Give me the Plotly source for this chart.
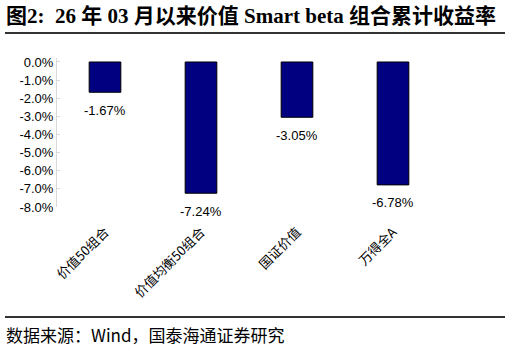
import plotly.graph_objects as go

categories = ["价值50组合", "价值均衡50组合", "国证价值", "万得全A"]
values = [-1.67, -7.24, -3.05, -6.78]
tick_vals = [0, -1, -2, -3, -4, -5, -6, -7, -8]
tick_text = ["0.0%", "-1.0%", "-2.0%", "-3.0%", "-4.0%", "-5.0%", "-6.0%", "-7.0%", "-8.0%"]
labels = [f"{v:.2f}%" for v in values]
title_text = "<b>图2:  26 年 03 月以来价值 Smart beta 组合累计收益率</b>"
source_text = "数据来源：Wind，国泰海通证券研究"

fig = go.Figure()
fig.add_trace(go.Bar(
    x=categories, y=values, width=0.33,
    marker=dict(color="#000080", line=dict(color="#000000", width=1)),
    showlegend=False, hoverinfo="skip",
))
for c, v, t in zip(categories, values, labels):
    fig.add_annotation(x=c, y=v, text=t, showarrow=False, yshift=-18,
                       font=dict(family="Liberation Sans, Arial", size=13, color="#000"))

W = 384
H = 149
fig.update_layout(
    width=510, height=346,
    margin=dict(l=57, r=69, t=58, b=139),
    paper_bgcolor="white", plot_bgcolor="white",
    xaxis=dict(tickangle=-45, showline=False, ticks="", showgrid=False, ticklabelstandoff=14,
               tickfont=dict(family="Noto Sans CJK SC", size=13, color="#000")),
    yaxis=dict(range=[-8.0, 0.22], tickvals=tick_vals, ticktext=tick_text,
               showgrid=False, zeroline=False, showline=True, linecolor="#d9d9d9",
               linewidth=1, ticks="inside", ticklen=3, tickcolor="#d9d9d9",
               tickfont=dict(family="Liberation Sans, Arial", size=13, color="#000")),
    shapes=[
        dict(type="line", xref="paper", yref="paper", x0=-52/W, x1=(505-57)/W,
             y0=(346-139-33)/H, y1=(346-139-33)/H, line=dict(color="#333", width=2)),
        dict(type="line", xref="paper", yref="paper", x0=-52/W, x1=(505-57)/W,
             y0=(346-139-317)/H, y1=(346-139-317)/H, line=dict(color="#333", width=2)),
    ],
    annotations=list(fig.layout.annotations) + [
        dict(xref="paper", yref="paper", x=-53/W, y=(346-139-16)/H, xanchor="left",
             yanchor="middle", showarrow=False, text=title_text,
             font=dict(family="Liberation Serif, Noto Sans CJK SC", size=21, color="#000")),
        dict(xref="paper", yref="paper", x=-53/W, y=(346-139-334)/H, xanchor="left",
             yanchor="middle", showarrow=False, text=source_text,
             font=dict(family="Noto Sans CJK SC", size=17, color="#000")),
    ],
)
fig.write_html("out.html")
